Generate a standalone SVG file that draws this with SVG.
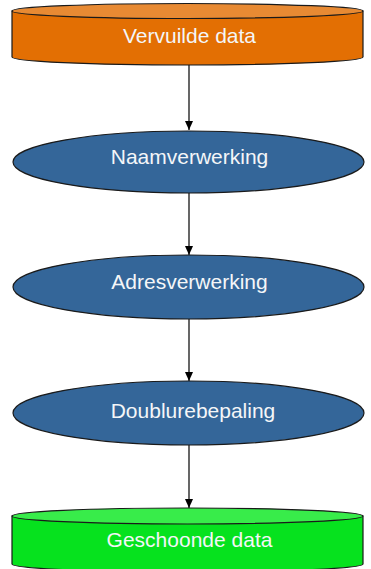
<svg xmlns="http://www.w3.org/2000/svg" width="371" height="569" viewBox="0 0 371 569">
  <style>
    .lbl { font-family: "Liberation Sans", Arial, sans-serif; font-size: 21px; fill: #f4f6f8; text-anchor: middle; }
    .edge { stroke: #000; stroke-width: 1.2; fill: none; marker-end: url(#arrow); }
    .outline { stroke: #1a1a1a; stroke-width: 1.2; }
    .proc { fill: #346699; stroke: #1a1a1a; stroke-width: 1.2; }
  </style>
  <defs>
    <marker id="arrow" markerWidth="10" markerHeight="10" refX="9" refY="5" orient="auto" markerUnits="userSpaceOnUse">
      <path d="M0,1 L9,5 L0,9 Z" fill="#000"/>
    </marker>
  </defs>
  <rect width="371" height="569" fill="#ffffff"/>

  <!-- connectors -->
  <g id="connectors">
    <line class="edge" x1="189" y1="65" x2="189" y2="130"/>
    <line class="edge" x1="189" y1="193" x2="189" y2="255"/>
    <line class="edge" x1="189" y1="319" x2="189" y2="381"/>
    <line class="edge" x1="189" y1="445" x2="189" y2="508"/>
  </g>

  <!-- source store -->
  <g id="vervuilde-data">
    <path class="outline" fill="#e36f03" d="M12,11 L12,57 A175.5,8 0 0 0 363,57 L363,11 Z"/>
    <ellipse class="outline" cx="187.5" cy="11" rx="175.5" ry="7.5" fill="#e88a33"/>
    <text class="lbl" x="189.5" y="43">Vervuilde data</text>
  </g>

  <g id="naamverwerking">
    <ellipse class="proc" cx="188.5" cy="162" rx="175.5" ry="31"/>
    <text class="lbl" x="189.5" y="164">Naamverwerking</text>
  </g>

  <g id="adresverwerking">
    <ellipse class="proc" cx="188.5" cy="287" rx="175.5" ry="32"/>
    <text class="lbl" x="189.5" y="289">Adresverwerking</text>
  </g>

  <g id="doublurebepaling">
    <ellipse class="proc" cx="188.5" cy="413" rx="175.5" ry="32"/>
    <text class="lbl" x="193" y="418">Doublurebepaling</text>
  </g>

  <!-- target store -->
  <g id="geschoonde-data">
    <path class="outline" fill="#06e21e" d="M12,516 L12,564 A175.5,8 0 0 0 363,564 L363,516 Z"/>
    <ellipse class="outline" cx="187.5" cy="516" rx="175.5" ry="8" fill="#38ec4a"/>
    <text class="lbl" x="189.5" y="547">Geschoonde data</text>
  </g>
</svg>
